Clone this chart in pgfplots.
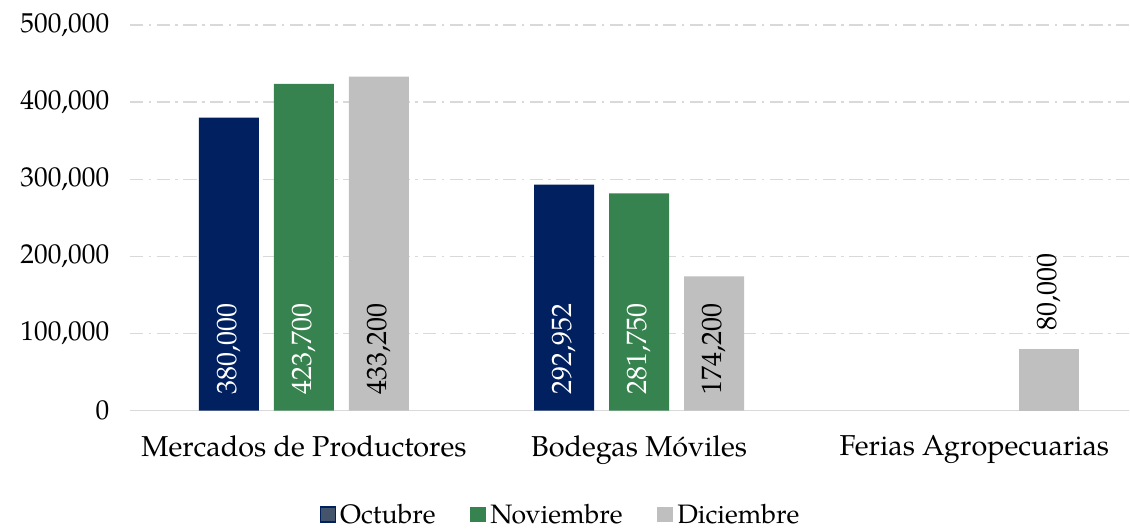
\documentclass[border=0pt]{standalone}
\usepackage{fontspec}
\setmainfont{TeX Gyre Pagella}
\usepackage{pgfplots}
\pgfplotsset{compat=1.18}
\definecolor{azul}{HTML}{002060}
\definecolor{azulleg}{HTML}{44546A}
\definecolor{verde}{HTML}{37834F}
\definecolor{gris}{HTML}{BFBFBF}
\definecolor{gridc}{HTML}{D9D9D9}
\begin{document}
\begin{tikzpicture}[font=\fontsize{20}{24}\selectfont]
\begin{axis}[
    at={(0,0)}, anchor=south west,
    scale only axis,
    width=750pt, height=289.5pt,
    xmin=-0.519, xmax=2.462,
    ymin=0, ymax=500000,
    xtick={0,1,2},
    xticklabels={Mercados de Productores, Bodegas Móviles, Ferias Agropecuarias},
    ytick={0,100000,200000,300000,400000,500000},
    scaled y ticks=false,
    /pgf/number format/fixed,
    /pgf/number format/precision=0,
    /pgf/number format/1000 sep={,},
    /pgf/number format/assume math mode=true,
    major tick length=0pt,
    axis lines*=left,
    axis line style={-},
    y axis line style={draw=none},
    x axis line style={draw=gridc, line width=1.1pt},
    ymajorgrids,
    grid style={color=gridc, line width=1.1pt, dash pattern=on 10pt off 4pt on 2pt off 4pt},
    yticklabel style={xshift=-12pt, font=\fontsize{20.5}{24}\selectfont},
    xticklabel style={yshift=-15pt, font=\fontsize{21.6}{26}\selectfont},
    legend style={at={(0.432,-0.269)}, anchor=center, draw=none, fill=none,
        legend columns=3, nodes={inner sep=3pt},
        /tikz/every even column/.append style={column sep=23pt}},
    visualization depends on={y \as \rawy},
    every node near coord/.append style={inner sep=0pt, anchor=south, font=\fontsize{21}{25}\selectfont},
    nodes near coords={\rotatebox{90}{\pgfmathprintnumber{\pgfplotspointmeta}}},
]
\addplot[ybar, bar width=45pt, bar shift=-56.25pt, fill=azul, draw=none,
    legend image code/.code={\draw[fill=azulleg, draw=azul, line width=1pt] (0pt,-5.6pt) rectangle (11.2pt,5.6pt);},
    nodes near coords style={shift={(axis direction cs:0,-\rawy)}, xshift=-56.25pt, yshift=12pt, text=white}]
    coordinates {(0,380000) (1,292952)};
\addlegendentry{Octubre}
\addplot[ybar, bar width=45pt, bar shift=0pt, fill=verde, draw=none,
    legend image code/.code={\fill[verde] (0pt,-6pt) rectangle (12pt,6pt);},
    nodes near coords style={shift={(axis direction cs:0,-\rawy)}, yshift=12pt, text=white}]
    coordinates {(0,423700) (1,281750)};
\addlegendentry{Noviembre}
\addplot[ybar, bar width=45pt, bar shift=56.25pt, fill=gris, draw=none,
    legend image code/.code={\fill[gris] (0pt,-6pt) rectangle (12pt,6pt);},
    nodes near coords style={shift={(axis direction cs:0,-\rawy)}, xshift=56.25pt, yshift=12pt, text=black}]
    coordinates {(0,433200) (1,174200)};
\addlegendentry{Diciembre}
\addplot[ybar, bar width=45pt, bar shift=56.25pt, fill=gris, draw=none, forget plot,
    nodes near coords style={xshift=56.25pt, yshift=14pt, text=black}]
    coordinates {(2,80000)};
\end{axis}
\path (-97.5pt,-87pt) rectangle (750pt,308.25pt);
\end{tikzpicture}
\end{document}
